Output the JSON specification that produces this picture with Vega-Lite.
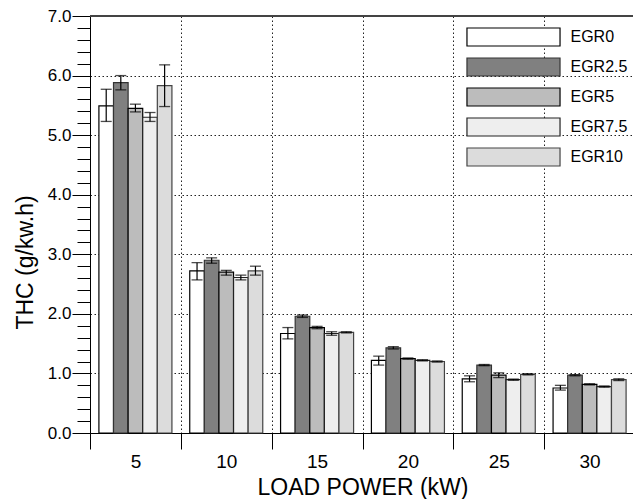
{
  "$schema": "https://vega.github.io/schema/vega-lite/v6.json",
  "width": 543,
  "height": 417,
  "autosize": {"type": "none"},
  "padding": {"left": 90, "top": 16, "right": 0, "bottom": 66},
  "background": "white",
  "config": {"view": {"stroke": null}, "font": "Liberation Sans"},
  "data": {"values": [
    {"load": 5, "egr": "EGR0", "value": 5.49, "lo": 5.23, "hi": 5.77},
    {"load": 5, "egr": "EGR2.5", "value": 5.88, "lo": 5.76, "hi": 6.0},
    {"load": 5, "egr": "EGR5", "value": 5.45, "lo": 5.39, "hi": 5.52},
    {"load": 5, "egr": "EGR7.5", "value": 5.3, "lo": 5.23, "hi": 5.38},
    {"load": 5, "egr": "EGR10", "value": 5.83, "lo": 5.48, "hi": 6.18},
    {"load": 10, "egr": "EGR0", "value": 2.72, "lo": 2.57, "hi": 2.86},
    {"load": 10, "egr": "EGR2.5", "value": 2.9, "lo": 2.85, "hi": 2.94},
    {"load": 10, "egr": "EGR5", "value": 2.7, "lo": 2.65, "hi": 2.73},
    {"load": 10, "egr": "EGR7.5", "value": 2.61, "lo": 2.57, "hi": 2.65},
    {"load": 10, "egr": "EGR10", "value": 2.72, "lo": 2.65, "hi": 2.8},
    {"load": 15, "egr": "EGR0", "value": 1.67, "lo": 1.58, "hi": 1.77},
    {"load": 15, "egr": "EGR2.5", "value": 1.96, "lo": 1.94, "hi": 1.98},
    {"load": 15, "egr": "EGR5", "value": 1.77, "lo": 1.75, "hi": 1.79},
    {"load": 15, "egr": "EGR7.5", "value": 1.67, "lo": 1.64, "hi": 1.7},
    {"load": 15, "egr": "EGR10", "value": 1.69, "lo": 1.68, "hi": 1.7},
    {"load": 20, "egr": "EGR0", "value": 1.22, "lo": 1.14, "hi": 1.29},
    {"load": 20, "egr": "EGR2.5", "value": 1.43, "lo": 1.41, "hi": 1.45},
    {"load": 20, "egr": "EGR5", "value": 1.25, "lo": 1.24, "hi": 1.26},
    {"load": 20, "egr": "EGR7.5", "value": 1.22, "lo": 1.21, "hi": 1.23},
    {"load": 20, "egr": "EGR10", "value": 1.2, "lo": 1.19, "hi": 1.21},
    {"load": 25, "egr": "EGR0", "value": 0.91, "lo": 0.86, "hi": 0.96},
    {"load": 25, "egr": "EGR2.5", "value": 1.14, "lo": 1.13, "hi": 1.15},
    {"load": 25, "egr": "EGR5", "value": 0.97, "lo": 0.93, "hi": 1.01},
    {"load": 25, "egr": "EGR7.5", "value": 0.895, "lo": 0.885, "hi": 0.905},
    {"load": 25, "egr": "EGR10", "value": 0.985, "lo": 0.975, "hi": 0.995},
    {"load": 30, "egr": "EGR0", "value": 0.755, "lo": 0.72, "hi": 0.8},
    {"load": 30, "egr": "EGR2.5", "value": 0.97, "lo": 0.96, "hi": 0.98},
    {"load": 30, "egr": "EGR5", "value": 0.817, "lo": 0.807, "hi": 0.827},
    {"load": 30, "egr": "EGR7.5", "value": 0.78, "lo": 0.77, "hi": 0.79},
    {"load": 30, "egr": "EGR10", "value": 0.895, "lo": 0.88, "hi": 0.91}
  ]},
  "resolve": {"axis": {"y": "independent"}},
  "layer": [
    {
      "mark": {"type": "bar"},
      "encoding": {
        "x": {
          "field": "load", "type": "ordinal", "sort": [5, 10, 15, 20, 25, 30],
          "scale": {"range": [0, 545], "paddingInner": 0, "paddingOuter": 0},
          "axis": {
            "title": "LOAD POWER (kW)", "tickBand": "extent", "tickSize": 16, "tickColor": "#000",
            "domainColor": "#000", "labelAngle": 0, "labelFontSize": 19, "labelColor": "#000",
            "labelBaseline": "alphabetic", "labelPadding": 18,
            "grid": true, "gridDash": [1.5, 2.5], "gridColor": "#222", "gridOpacity": 1,
            "titleFontSize": 23, "titleFontWeight": "normal", "titleColor": "#000",
            "titleBaseline": "alphabetic", "titleY": 61
          }
        },
        "xOffset": {
          "field": "egr", "type": "nominal", "sort": ["EGR0", "EGR2.5", "EGR5", "EGR7.5", "EGR10"],
          "scale": {"paddingInner": 0, "paddingOuter": 0.61}
        },
        "y": {
          "field": "value", "type": "quantitative",
          "scale": {"domain": [0, 7], "nice": false, "zero": true},
          "axis": {
            "orient": "left",
            "title": "THC (g/kw.h)",
            "values": [0, 1, 2, 3, 4, 5, 6, 7],
            "format": ".1f",
            "labelOverlap": false, "labelFlush": false, "labelBound": false,
            "tickSize": 18, "tickColor": "#000", "domainColor": "#000",
            "labelFontSize": 17, "labelPadding": 1, "labelColor": "#000",
            "grid": true, "gridDash": [1.5, 2.5], "gridColor": "#222", "gridOpacity": 1,
            "titleFontSize": 23, "titleFontWeight": "normal", "titleColor": "#000",
            "titleAngle": 270, "titleAlign": "center", "titleBaseline": "middle",
            "titleX": -65, "titleY": 246
          }
        },
        "fill": {
          "field": "egr", "type": "nominal",
          "scale": {"domain": ["EGR0", "EGR2.5", "EGR5", "EGR7.5", "EGR10"], "range": ["#ffffff", "#808080", "#bcbcbc", "#eeeeee", "#dcdcdc"]},
          "legend": {
            "orient": "none", "legendX": 413.5, "legendY": 11, "title": null, "padding": 0,
            "symbolType": "M-5.17,-1H5.17V1H-5.17Z", "symbolSize": 324,
            "symbolStrokeColor": "#000", "symbolStrokeWidth": 1,
            "labelFontSize": 16, "labelColor": "#000", "labelOffset": 47, "rowPadding": 6
          }
        },
        "stroke": {
          "field": "egr", "type": "nominal",
          "scale": {"domain": ["EGR0", "EGR2.5", "EGR5", "EGR7.5", "EGR10"], "range": ["#000000", "#333333", "#000000", "#222222", "#444444"]},
          "legend": null
        },
        "strokeWidth": {
          "field": "egr", "type": "ordinal",
          "scale": {"domain": ["EGR0", "EGR2.5", "EGR5", "EGR7.5", "EGR10"], "range": [1.2, 1.2, 2, 1.2, 1.2]},
          "legend": null
        }
      }
    },
    {
      "mark": {"type": "rule", "color": "#000", "strokeWidth": 1.2},
      "encoding": {
        "x": {"field": "load", "type": "ordinal", "sort": [5, 10, 15, 20, 25, 30]},
        "xOffset": {"field": "egr", "type": "nominal", "sort": ["EGR0", "EGR2.5", "EGR5", "EGR7.5", "EGR10"]},
        "y": {
          "field": "lo", "type": "quantitative",
          "axis": {
            "orient": "left", "title": null, "labels": false, "domain": false, "grid": false,
            "values": [0.2, 0.4, 0.6, 0.8, 1.2, 1.4, 1.6, 1.8, 2.2, 2.4, 2.6, 2.8, 3.2, 3.4, 3.6, 3.8, 4.2, 4.4, 4.6, 4.8, 5.2, 5.4, 5.6, 5.8, 6.2, 6.4, 6.6, 6.8],
            "tickSize": 13, "tickColor": "#000"
          }
        },
        "y2": {"field": "hi"}
      }
    },
    {
      "mark": {"type": "tick", "color": "#000", "size": 11, "thickness": 1.3},
      "encoding": {
        "x": {"field": "load", "type": "ordinal", "sort": [5, 10, 15, 20, 25, 30]},
        "xOffset": {"field": "egr", "type": "nominal", "sort": ["EGR0", "EGR2.5", "EGR5", "EGR7.5", "EGR10"]},
        "y": {"field": "lo", "type": "quantitative", "axis": null}
      }
    },
    {
      "mark": {"type": "tick", "color": "#000", "size": 11, "thickness": 1.3},
      "encoding": {
        "x": {"field": "load", "type": "ordinal", "sort": [5, 10, 15, 20, 25, 30]},
        "xOffset": {"field": "egr", "type": "nominal", "sort": ["EGR0", "EGR2.5", "EGR5", "EGR7.5", "EGR10"]},
        "y": {"field": "hi", "type": "quantitative", "axis": null}
      }
    },
    {
      "mark": {"type": "rule", "color": "#444", "strokeWidth": 1.5},
      "encoding": {"y": {"datum": 7, "axis": null}}
    }
  ]
}
